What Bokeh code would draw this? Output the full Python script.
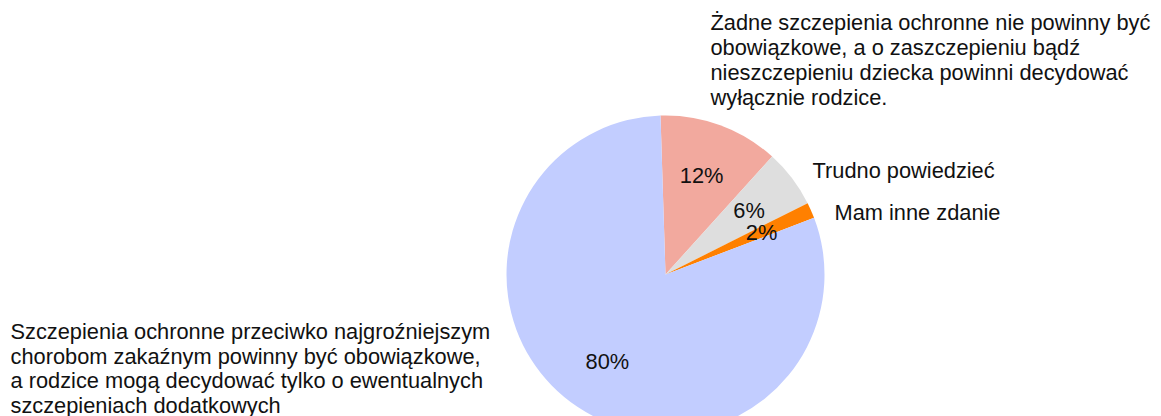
import math
from bokeh.plotting import figure
from bokeh.models import Range1d, Label
from bokeh.embed import file_html
from bokeh.resources import INLINE

# Data
categories = [
    "Żadne szczepienia ochronne nie powinny być\nobowiązkowe, a o zaszczepieniu bądź\nnieszczepieniu dziecka powinni decydować\nwyłącznie rodzice.",
    "Trudno powiedzieć",
    "Mam inne zdanie",
    "Szczepienia ochronne przeciwko najgroźniejszym\nchorobom zakaźnym powinny być obowiązkowe,\na rodzice mogą decydować tylko o ewentualnych\nszczepieniach dodatkowych",
]
values = [12.2, 5.9, 1.6, 80.3]
pct_labels = ["12%", "6%", "2%", "80%"]
colors = ["#f2a99e", "#dedede", "#ff8000", "#c2cdff"]

W, H = 1161, 416
FONT = "Liberation Sans"
FS = "21.8px"
TXT = "#111111"

p = figure(width=W, height=H, output_backend="svg", toolbar_location=None,
           x_range=Range1d(0, W), y_range=Range1d(0, H), min_border=0)
p.axis.visible = False
p.grid.visible = False
p.outline_line_color = None
p.background_fill_color = "white"

cx, cy_pix, R = 665, 274, 159
cy = H - cy_pix

total = sum(values)
start = math.radians(91.8)
angs = []
a = start
for v in values:
    e = a - v / total * 2 * math.pi
    angs.append((e, a))
    a = e

p.wedge(x=[cx] * 4, y=[cy] * 4, radius=R,
        start_angle=[s for s, e in angs], end_angle=[e for s, e in angs],
        fill_color=colors, line_color=None)

for (s, e), lab in zip(angs, pct_labels):
    m = (s + e) / 2
    r = 0.66 * R
    p.add_layout(Label(x=cx + r * math.cos(m), y=cy + r * math.sin(m), text=lab,
                       text_font=FONT, text_font_size=FS, text_align="center",
                       text_baseline="middle", text_color=TXT))

# category labels (x, baseline of first line in pixel coords)
label_pos = [(710, 29), (812, 177), (834, 219), (10, 338)]
LH = [25, 25, 25, 24.5]
OFF = 7
for txt, (lx, ly), lh in zip(categories, label_pos, LH):
    for i, line in enumerate(txt.split("\n")):
        p.add_layout(Label(x=lx, y=H - (ly - OFF + i * lh), text=line, text_font=FONT,
                           text_font_size=FS, text_align="left",
                           text_baseline="alphabetic", text_color=TXT))

open("out.html", "w").write(file_html(p, INLINE))
